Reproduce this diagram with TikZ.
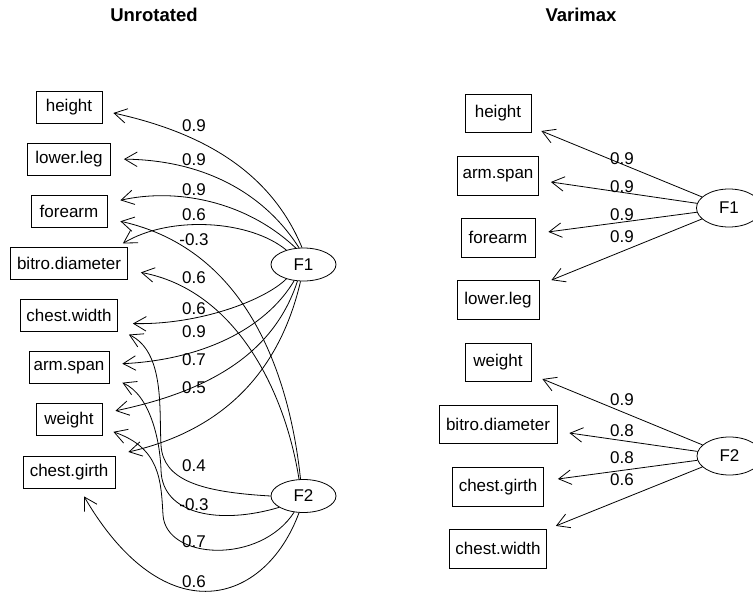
\documentclass[tikz,border=0pt]{standalone}
\usepackage{fontspec}
\setmainfont{Liberation Sans}
\usetikzlibrary{arrows.meta,shapes.geometric}

\tikzset{
  var/.style={draw, rectangle, inner sep=0pt, minimum height=32pt, line width=0.8pt,
    font=\fontsize{17}{20}\selectfont},
  fac/.style={draw, ellipse, inner sep=0pt, minimum width=65pt, minimum height=33pt,
    line width=0.8pt, font=\fontsize{17}{20}\selectfont},
  load/.style={inner sep=0pt, font=\fontsize{17}{20}\selectfont},
  ttl/.style={inner sep=0pt, anchor=base, font=\bfseries\fontsize{18.5}{22}\selectfont},
  arr/.style={-{Straight Barb[length=12.5pt,width=14.5pt]}, line width=0.8pt}
}

\begin{document}
\begin{tikzpicture}[x=1pt, y=-1pt]
  \useasboundingbox (0,0) rectangle (753,594);
  \clip (0,0) rectangle (753,594);

  % Titel
  \node[ttl] (tu) at (154,22) {Unrotated};
  \node[ttl] (tv) at (581,22) {Varimax};

  % Variablen links
  \foreach \nm/\txt/\w [count=\i from 0] in {height/height/66, lowerleg/lower.leg/83,
      forearm/forearm/76, bitro/bitro.diameter/117, chestwidth/chest.width/97,
      armspan/arm.span/80, weight/weight/66, chestgirth/chest.girth/92}
    \node[var, minimum width=\w pt] (u\nm) at (69,107+52.14*\i) {\txt};

  % Variablen rechts
  \foreach \nm/\txt/\w [count=\i from 0] in {height/height/66, armspan/arm.span/81,
      forearm/forearm/74, lowerleg/lower.leg/82, weight/weight/66,
      bitro/bitro.diameter/118, chestgirth/chest.girth/91, chestwidth/chest.width/97}
    \node[var, minimum width=\w pt, minimum height=38.5pt] (v\nm) at (498,113.5+62.2*\i) {\txt};

  % Faktoren
  \node[fac] (uF1) at (303.5,264.5) {F1};
  \node[fac] (uF2) at (303.5,496) {F2};
  \node[fac, minimum height=38pt] (vF1) at (729,208) {F1};
  \node[fac, minimum height=38pt] (vF2) at (729.5,456) {F2};

  % F1 links, oben
  \draw[arr] (uF1.95) .. controls (270,170) and (200,132) .. ([shift={(11,6)}]uheight.east);
  \draw[arr] (uF1.105) .. controls (262,190) and (200,160) .. ([shift={(13,0)}]ulowerleg.east);
  \draw[arr] (uF1.115) .. controls (245,200) and (175,188) .. ([shift={(13,-11)}]uforearm.east);
  \draw[arr] (uF1.140) .. controls (250,220) and (170,215) .. ([shift={(-5,-20)}]ubitro.east);
  % F1 links, unten
  \draw[arr] (uF1.-140) .. controls (265,300) and (200,325) .. ([shift={(15,8)}]uchestwidth.east);
  \draw[arr] (uF1.-120) .. controls (265,330) and (200,360) .. ([shift={(13,-4)}]uarmspan.east);
  \draw[arr] (uF1.-110) .. controls (275,350) and (215,390) .. ([shift={(13,-9)}]uweight.east);
  \draw[arr] (uF1.-100) .. controls (280,370) and (225,430) .. ([shift={(13,-20)}]uchestgirth.east);

  % F2 links
  \draw[arr] (uF2.100) .. controls (290,380) and (250,250) .. ([shift={(13,10)}]uforearm.east);
  \draw[arr] (uF2.105) .. controls (285,390) and (235,290) .. ([shift={(13,9)}]ubitro.east);
  \draw[arr] (uF2.180) .. controls (200,492) and (163,480) .. (161,445)
    .. controls (159,410) and (165,352) .. ([shift={(11,19)}]uchestwidth.east);
  \draw[arr] (uF2.-155) .. controls (220,525) and (162,515) .. (161,470)
    .. controls (160,440) and (150,395) .. ([shift={(13,15)}]uarmspan.east);
  \draw[arr] (uF2.-120) .. controls (260,565) and (166,560) .. (163,515)
    .. controls (161,480) and (160,448) .. ([shift={(11,12)}]uweight.east);
  \draw[arr] (uF2.-105) .. controls (265,605) and (165,635) .. ([shift={(15,8)}]uchestgirth.south);

  % Ladungen links
  \foreach \lab/\y [count=\k] in {0.9/126, 0.9/159.5, 0.9/190, 0.6/215, -0.3/240,
      0.6/277.5, 0.6/308.5, 0.9/331.5, 0.7/359.5, 0.5/387.5,
      0.4/466, -0.3/505, 0.7/542, 0.6/582}
    \node[load] (ul\k) at (194,\y) {\lab};

  % rechts: gerade Pfeile
  \foreach \f/\v/\dx/\dy in {vF1/vheight/10/17.5, vF1/varmspan/12/6.3,
      vF1/vforearm/13/-6, vF1/vlowerleg/12/-20, vF2/vweight/11/16.7,
      vF2/vbitro/12/8.5, vF2/vchestgirth/14/-7.7, vF2/vchestwidth/9/-23}
    \draw[arr] (\f) -- ([shift={(\dx,\dy)}]\v.east);

  % Ladungen rechts
  \foreach \lab/\y [count=\k] in {0.9/158.5, 0.9/186.7, 0.9/215, 0.9/236.5,
      0.9/400, 0.8/431, 0.8/458, 0.6/480}
    \node[load] (vl\k) at (622,\y) {\lab};
\end{tikzpicture}
\end{document}
